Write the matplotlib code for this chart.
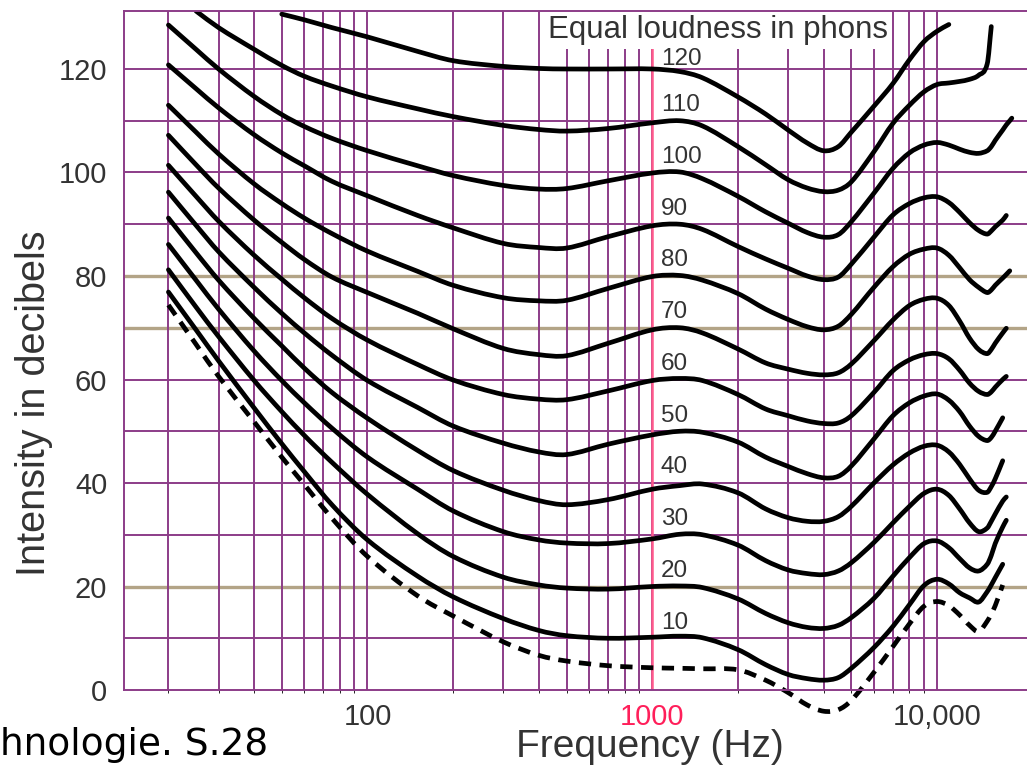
import numpy as np
import matplotlib.pyplot as plt
from matplotlib.path import Path
from matplotlib.patches import PathPatch
from matplotlib.ticker import FixedLocator, NullFormatter

plt.rcParams['font.family'] = ['Liberation Sans', 'DejaVu Sans']

# frequency points (Hz) shared by all curves
freq = [20, 25, 30, 40, 50, 60, 75, 100, 150, 200,
        300, 400, 500, 700, 1000, 1250, 1500, 2000, 2500, 3000,
        3500, 4000, 4500, 5000, 6000, 7000, 8000, 9000, 10000, 11000,
        12000, 13000, 14000, 15000, 15500, 16000, 17000, 17500, 18000, 18300]

# threshold of hearing (dashed)
threshold = [74.4, 66.8, 60.6, 51.8, 45.0, 39.7, 33.2, 25.8, 18.2, 14.3,
             9.3, 6.7, 5.6, 4.7, 4.3, 4.2, 4.1, 3.9, 1.9, -0.5,
             -2.9, -4.1, -3.8, -2.0, 3.4, 8.4, 12.8, 16.2, 17.1, 16.3,
             14.5, 12.5, 11.3, 13.3, 14.7, 16.3, 20.3, None, None, None]

phon_10 = [76.9, 69.6, 63.6, 54.5, 47.6, 42.2, 35.8, 29.0, 22.0, 18.0,
           13.8, 11.5, 10.5, 10.0, 10.2, 10.4, 10.1, 7.8, 4.9, 3.0,
           2.2, 1.9, 2.4, 4.2, 8.2, 12.3, 16.5, 20.2, 21.4, 20.5,
           18.8, 17.8, 17.0, 19.0, 20.3, 21.7, 24.3, None, None, None]

phon_20 = [81.2, 74.0, 68.3, 59.8, 53.8, 49.2, 44.0, 37.8, 30.2, 25.8,
           21.8, 20.3, 19.7, 19.5, 20.0, 20.1, 19.8, 17.6, 14.8, 13.0,
           12.1, 11.9, 12.5, 14.0, 17.7, 22.0, 25.6, 28.3, 28.8, 27.5,
           25.4, 23.6, 23.0, 24.3, 26.0, 28.3, 31.5, 32.8, None, None]

phon_30 = [86.1, 79.2, 73.6, 65.5, 59.8, 55.5, 50.6, 45.0, 38.8, 34.6,
           30.6, 29.0, 28.4, 28.3, 29.2, 30.1, 30.0, 28.0, 25.0, 23.2,
           22.5, 22.3, 23.0, 24.6, 28.5, 32.3, 35.5, 38.0, 38.8, 37.6,
           35.0, 32.3, 30.6, 31.3, 32.6, 34.0, 36.5, 37.3, None, None]

phon_40 = [91.2, 84.5, 79.2, 71.8, 66.5, 62.2, 57.5, 52.5, 46.3, 42.4,
           38.6, 36.6, 35.8, 36.8, 38.8, 39.5, 39.8, 38.1, 35.0, 33.3,
           32.6, 32.6, 33.5, 35.5, 40.0, 43.5, 45.8, 47.1, 47.3, 46.0,
           43.6, 40.8, 38.6, 38.2, 39.3, 40.8, 44.3, None, None, None]

phon_50 = [96.2, 89.8, 84.7, 77.8, 72.8, 69.0, 64.7, 59.8, 54.6, 51.0,
           47.7, 46.0, 45.5, 47.5, 49.3, 50.0, 49.8, 47.9, 45.0, 43.2,
           41.8, 41.0, 41.3, 43.3, 48.5, 53.0, 55.5, 56.8, 57.2, 56.0,
           53.8, 51.0, 49.0, 48.2, 48.8, 50.0, 52.6, None, None, None]

phon_60 = [101.4, 95.4, 90.6, 84.0, 79.4, 75.8, 71.8, 67.6, 62.9, 59.9,
           57.1, 56.2, 56.1, 57.8, 59.8, 60.2, 59.8, 57.1, 54.3, 53.0,
           52.0, 51.5, 51.6, 53.0, 57.5, 61.7, 63.8, 64.8, 65.0, 64.0,
           61.8, 59.3, 57.7, 57.1, 57.6, 58.5, 60.0, 60.6, None, None]

phon_70 = [107.2, 101.5, 97.0, 90.8, 86.5, 83.2, 79.8, 76.8, 72.8, 69.8,
           66.0, 64.8, 64.6, 67.0, 69.6, 70.0, 69.0, 65.9, 63.2, 62.0,
           61.2, 60.9, 61.3, 63.0, 67.5, 71.5, 74.3, 75.5, 75.7, 74.3,
           71.3, 68.0, 65.8, 65.0, 65.8, 67.0, 69.0, 69.9, None, None]

phon_80 = [113.0, 107.8, 103.6, 97.8, 94.0, 91.2, 88.2, 84.8, 80.9, 78.2,
           75.8, 75.2, 75.3, 77.6, 79.9, 80.1, 79.2, 76.6, 73.6, 71.6,
           70.2, 69.6, 70.3, 72.6, 77.8, 81.8, 84.2, 85.2, 85.4, 84.0,
           81.6, 79.3, 77.8, 76.8, 77.3, 78.2, 79.6, 80.3, 81.0, None]

phon_90 = [120.8, 116.2, 112.5, 107.3, 103.8, 101.3, 98.3, 95.5, 91.7, 89.3,
           86.3, 85.5, 85.4, 87.6, 89.7, 90.0, 89.0, 85.7, 83.3, 81.5,
           80.0, 79.3, 79.8, 82.3, 87.5, 91.8, 94.0, 95.1, 95.3, 94.2,
           92.3, 90.3, 88.8, 88.1, 88.7, 89.5, 90.8, 91.7, None, None]

phon_100 = [128.5, 123.8, 120.0, 114.7, 111.2, 108.9, 106.6, 104.2, 101.3, 99.4,
            97.5, 96.8, 96.9, 98.4, 99.9, 100.1, 98.8, 95.4, 92.4, 90.2,
            88.4, 87.5, 88.0, 90.5, 96.0, 100.8, 103.8, 105.3, 105.8, 105.3,
            104.5, 103.9, 103.7, 104.2, 105.0, 106.2, 108.2, 109.2, 110.0, 110.5]

phon_110 = [None, 131.2, 128.0, 123.8, 120.7, 118.6, 116.7, 114.6, 112.3, 110.8,
            109.1, 108.3, 108.0, 108.5, 109.6, 110.0, 109.0, 105.0, 101.5, 98.6,
            97.0, 96.3, 96.6, 98.2, 104.0, 109.5, 113.0, 115.6, 117.0, 117.3,
            117.6, 118.0, 118.8, 121.0, 128.2, None, None, None, None, None]

phon_120 = [None, None, None, None, 130.6, 129.5, 128.0, 126.2, 123.4, 121.6,
            120.5, 120.1, 120.0, 120.0, 120.0, 119.5, 118.3, 114.6, 111.3, 108.2,
            105.7, 104.2, 105.0, 107.8, 112.8, 117.2, 121.8, 125.3, 127.3, 128.6,
            None, None, None, None, None, None, None, None, None, None]

phons = [10, 20, 30, 40, 50, 60, 70, 80, 90, 100, 110, 120]
curves = [phon_10, phon_20, phon_30, phon_40, phon_50, phon_60,
          phon_70, phon_80, phon_90, phon_100, phon_110, phon_120]

x_ticks = [100, 1000, 10000]
x_tick_labels = ['100', '1000', '10,000']
y_ticks = [0, 20, 40, 60, 80, 100, 120]

grid_col = '#8c3c88'
tan_col = '#b3a487'
text_col = '#333333'


def smooth_path(f, db):
    # cubic bezier through the read points (hermite in log-frequency)
    f = np.asarray(f, dtype=float)
    db = np.asarray(db, dtype=float)
    ok = ~np.isnan(db)
    u, y = np.log10(f[ok]), db[ok]
    n = len(u)
    m = np.empty(n)
    m[0] = (y[1] - y[0]) / (u[1] - u[0])
    m[-1] = (y[-1] - y[-2]) / (u[-1] - u[-2])
    m[1:-1] = (y[2:] - y[:-2]) / (u[2:] - u[:-2])
    verts = [(u[0], y[0])]
    codes = [Path.MOVETO]
    for i in range(n - 1):
        h = u[i + 1] - u[i]
        verts += [(u[i] + h / 3, y[i] + m[i] * h / 3),
                  (u[i + 1] - h / 3, y[i + 1] - m[i + 1] * h / 3),
                  (u[i + 1], y[i + 1])]
        codes += [Path.CURVE4] * 3
    verts = np.array(verts)
    verts[:, 0] = 10 ** verts[:, 0]
    return Path(verts, codes)


fig = plt.figure(figsize=(10.27, 7.66), dpi=100)
ax = fig.add_axes([0.1207, 0.0992, 0.8793, 0.8864])
ax.set_xscale('log')

# curves
for p, c in zip(phons, curves):
    ax.add_patch(PathPatch(smooth_path(freq, c), fill=False, edgecolor='black',
                           lw=3.4, capstyle='round', joinstyle='round', zorder=2))
    ly = p + 3 if p < 120 else 122.0
    ax.text(1070, ly, str(p), fontsize=17.5, color=text_col,
            ha='left', va='center', zorder=3)

ax.add_patch(PathPatch(smooth_path(freq, threshold), fill=False, edgecolor='black',
                       lw=3.4, ls=(0, (2.6, 1.8)), capstyle='butt',
                       clip_on=False, zorder=2))

ax.set_xlim(13.96, 20690)
ax.set_ylim(0, 131.2)

# vertical grid
minor = [m * d for d in (10, 100, 1000) for m in range(2, 10)]
ax.xaxis.set_major_locator(FixedLocator(x_ticks))
ax.xaxis.set_minor_locator(FixedLocator(minor))
ax.xaxis.set_minor_formatter(NullFormatter())
ax.set_xticks(x_ticks)
ax.set_xticklabels(x_tick_labels)
ax.grid(axis='x', which='both', color=grid_col, lw=1.4, zorder=1.5)
ax.axvline(1000, color='#ff5a8c', lw=1.8, zorder=1.6)

# horizontal grid, a few in tan
for v in range(10, 130, 10):
    if v in (20, 70, 80):
        ax.axhline(v, color=tan_col, lw=2.4, zorder=1.4)
    else:
        ax.axhline(v, color=grid_col, lw=1.4, zorder=1.4)

ax.set_yticks(y_ticks)
ax.tick_params(length=0, labelsize=21, colors=text_col)
ax.tick_params(axis='x', pad=9)
ax.tick_params(axis='y', pad=12)
ax.get_xticklabels()[1].set_color('#ff1f5a')

for s in ['left', 'bottom', 'top']:
    ax.spines[s].set_color(grid_col)
    ax.spines[s].set_linewidth(1.4)
    ax.spines[s].set_zorder(2.5)
ax.spines['right'].set_visible(False)

ax.text(1700, 126.0, 'Equal loudness in phons', fontsize=22.5, color=text_col,
        ha='center', va='baseline', zorder=2.2,
        bbox=dict(facecolor='white', edgecolor='none', pad=3.0))

ax.set_xlabel('Frequency (Hz)', fontsize=28, color=text_col)
ax.xaxis.set_label_coords(0.5825, -0.058)
ax.set_ylabel('Intensity in decibels', fontsize=28.5, color=text_col)
ax.yaxis.set_label_coords(-0.079, 0.4227)

fig.text(0.0, 1 - 755 / 766, 'hnologie. S.28', fontsize=27,
         family='DejaVu Sans', color='black', ha='left', va='baseline')

fig.savefig('out.png', dpi=100)
